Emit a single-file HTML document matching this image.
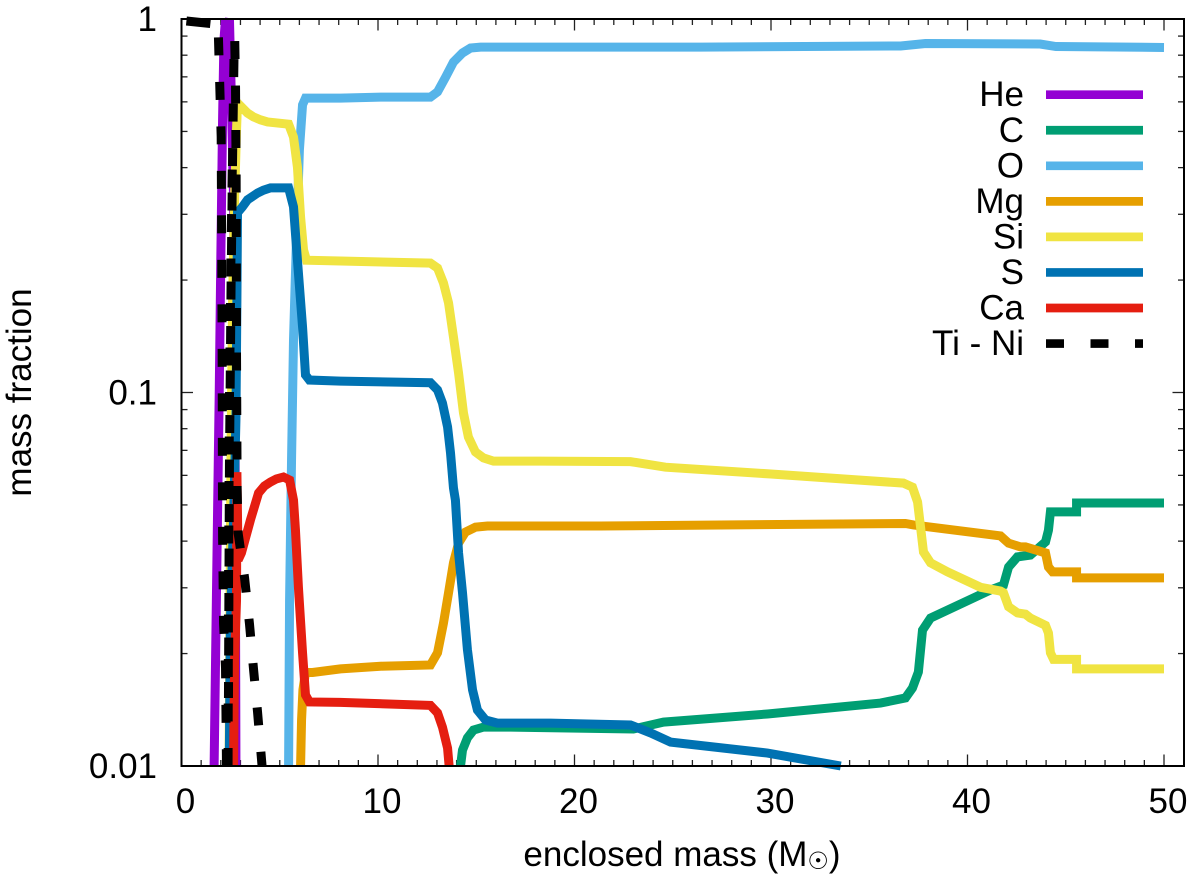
<!DOCTYPE html>
<html>
<head>
<meta charset="utf-8">
<style>
html,body{margin:0;padding:0;background:#fff;}
svg{display:block;}
text{font-family:"Liberation Sans","DejaVu Sans",sans-serif;font-size:35px;fill:#000;}
</style>
</head>
<body>
<svg id="chart" width="1200" height="880" viewBox="0 0 1200 880" xmlns="http://www.w3.org/2000/svg">
<rect width="1200" height="880" fill="#fff"/>
<g id="ticks"></g>
<g id="series"></g>
<rect x="181.5" y="19" width="1002.5" height="747" fill="none" stroke="#000" stroke-width="2"/>
<g id="ticklabels"></g>
<text transform="translate(31,392.5) rotate(-90)" text-anchor="middle">mass fraction</text>
<text x="682" y="866" text-anchor="middle">enclosed mass (M<tspan dy="3" style="font-family:'DejaVu Sans',sans-serif;font-size:24px">☉</tspan><tspan dy="-3">)</tspan></text>
<g id="legend"></g>
</svg>
<script>
var xTicks = [0, 10, 20, 30, 40, 50];
var yTicks = [1, 0.1, 0.01];
var yTickLabels = ["1", "0.1", "0.01"];
var legendLabels = ["He", "C", "O", "Mg", "Si", "S", "Ca", "Ti - Ni"];

var heMass = [1.66,1.83,1.92,2.0,2.09,2.16,2.24,2.31,2.44,2.54,2.65,2.72,2.77];
var heFrac = [0.01,0.0456,0.0998,0.226,0.537,0.879,1,0.958,1,0.607,0.328,0.0955,0.01];

var cMass = [14.2,14.3,14.55,14.86,15.37,16.75,23.0,24.53,29.82,35.57,36.84,37.2,37.5,37.71,38.12,41.17,41.83,42.09,42.54,43.2,43.97,44.12,44.22,45.55,45.55,50];
var cFrac = [0.01,0.01103,0.01189,0.01248,0.01271,0.01271,0.01256,0.01311,0.01378,0.01474,0.01521,0.01618,0.01785,0.0231,0.0249,0.0296,0.0305,0.0341,0.0363,0.0367,0.0398,0.0428,0.0479,0.0479,0.0506,0.0506];

var oMass = [5.45,5.5,5.6,5.7,5.85,6.0,6.16,6.31,8.09,10.13,12.67,13.03,13.44,13.84,14.3,14.71,15.22,16.74,26.4,36.6,37.86,43.7,44.5,50];
var oFrac = [0.01,0.0278,0.066,0.138,0.256,0.446,0.589,0.614,0.614,0.618,0.618,0.638,0.699,0.767,0.811,0.836,0.841,0.841,0.841,0.847,0.86,0.857,0.844,0.839];

var mgMass = [6.06,6.11,6.18,6.31,6.67,8.09,10.13,12.67,13.03,13.33,13.59,13.84,14.1,14.45,14.96,15.57,21.3,36.84,37.25,41.68,42.09,42.7,42.95,43.97,44.12,44.33,45.55,45.55,50];
var mgFrac = [0.01,0.0133,0.016,0.0178,0.0178,0.0182,0.0185,0.01864,0.0201,0.0241,0.0291,0.035,0.0395,0.0423,0.0436,0.0439,0.0439,0.0446,0.0442,0.0413,0.0395,0.0386,0.0386,0.0372,0.0341,0.0331,0.0331,0.0319,0.0319];

var siMass = [2.42,2.47,2.52,2.6,2.7,2.8,2.85,3.1,3.36,3.66,4.02,4.38,5.45,5.7,5.9,6.06,6.21,6.36,8.09,12.67,13.03,13.33,13.59,13.84,14.1,14.35,14.6,14.96,15.37,15.88,18.27,22.85,24.63,30,36.74,37.2,37.46,37.76,38.12,38.98,40.66,41.68,41.83,42.09,42.54,42.95,43.2,43.97,44.12,44.22,44.38,45.55,45.55,50];
var siFrac = [0.01,0.0278,0.0702,0.177,0.328,0.504,0.596,0.578,0.56,0.547,0.537,0.53,0.523,0.483,0.401,0.295,0.241,0.226,0.225,0.222,0.2154,0.1965,0.1737,0.1408,0.1128,0.0881,0.076,0.0693,0.0668,0.0655,0.0655,0.0653,0.0631,0.0605,0.0572,0.0558,0.0509,0.0374,0.035,0.0331,0.0301,0.0294,0.0291,0.0267,0.0257,0.0255,0.0249,0.0238,0.0227,0.0201,0.0193,0.0193,0.0182,0.0182];

var sMass = [2.43,2.49,2.65,2.77,2.82,2.85,3.1,3.36,3.87,4.17,4.53,5.45,5.7,5.9,6.16,6.31,6.51,8.09,12.67,13.03,13.28,13.54,13.69,13.84,13.94,14.1,14.3,14.55,14.81,15.06,15.47,16.08,18.78,22.85,23.87,24.89,29.82,33.55];
var sFrac = [0.01,0.0246,0.0456,0.0844,0.177,0.303,0.314,0.328,0.342,0.348,0.353,0.353,0.314,0.226,0.15,0.1114,0.108,0.1073,0.1062,0.1016,0.0937,0.0809,0.0689,0.0555,0.0515,0.0372,0.0291,0.0205,0.016,0.01412,0.01328,0.01303,0.01303,0.01288,0.01226,0.01159,0.01083,0.01];

var caMass = [2.65,2.7,2.8,2.82,2.88,3.05,3.51,3.92,4.22,4.53,4.83,5.19,5.5,5.7,5.8,5.95,6.16,6.31,6.51,8.09,12.67,13.03,13.28,13.54,13.62];
var caFrac = [0.01,0.0192,0.0278,0.0612,0.0356,0.0372,0.0456,0.0538,0.0562,0.0576,0.0587,0.0594,0.0583,0.0515,0.0428,0.0301,0.0201,0.0155,0.01484,0.0148,0.01453,0.01387,0.01271,0.01117,0.01];

var tiTopMass = [0.25,1.47];
var tiTopFrac = [0.9878,0.9727];
var tiAMass = [1.88,2.02,2.04,2.07,2.09,2.14,2.24,2.29];
var tiAFrac = [0.893,0.483,0.279,0.122,0.0415,0.0241,0.0183,0.01];
var tiBMass = [2.71,2.75,2.78,2.8,2.83,2.88,3.21,3.46,3.66,3.87,4.1];
var tiBFrac = [0.873,0.654,0.378,0.126,0.0555,0.0421,0.0319,0.024,0.0183,0.01395,0.01];
var tiCMass = [2.37,2.39,2.44,2.52,2.6];
var tiCFrac = [0.01,0.0278,0.0955,0.241,0.45];
var tiDMass = [2.67,2.6,2.52,2.44,2.39];
var tiDFrac = [0.781,0.427,0.188,0.0639,0.01521];

function xScale(m) { return 181.5 + (m - 0) * 19.65; }
function yScale(f) { return 19 + (0 - Math.log10(f)) * 373.5; }

var NS = 'http://www.w3.org/2000/svg';
var W = 9;

function drawLine(parent, xs, ys, color, dashed) {
  var el = document.createElementNS(NS, 'polyline');
  var pts = [];
  for (var i = 0; i < xs.length; i++) {
    pts.push(xScale(xs[i]).toFixed(2) + ',' + yScale(ys[i]).toFixed(2));
  }
  el.setAttribute('points', pts.join(' '));
  el.setAttribute('fill', 'none');
  el.setAttribute('stroke', color);
  el.setAttribute('stroke-width', W);
  el.setAttribute('stroke-linejoin', 'miter');
  el.setAttribute('stroke-miterlimit', '3');
  if (dashed) { el.setAttribute('stroke-dasharray', '18 26.5'); }
  parent.appendChild(el);
  return el;
}

var seriesG = document.getElementById('series');
var l;
l = drawLine(seriesG, heMass, heFrac, '#9400d3', false);


l = drawLine(seriesG, cMass, cFrac, '#009e73', false);


l = drawLine(seriesG, oMass, oFrac, '#56b4e9', false);


l = drawLine(seriesG, mgMass, mgFrac, '#e69f00', false);


l = drawLine(seriesG, siMass, siFrac, '#f0e442', false);


l = drawLine(seriesG, sMass, sFrac, '#0072b2', false);


l = drawLine(seriesG, caMass, caFrac, '#e51e10', false);


l = drawLine(seriesG, tiTopMass, tiTopFrac, '#000', false);


l = drawLine(seriesG, tiAMass, tiAFrac, '#000', true);


l = drawLine(seriesG, tiBMass, tiBFrac, '#000', true);


l = drawLine(seriesG, tiCMass, tiCFrac, '#000', true);


l = drawLine(seriesG, tiDMass, tiDFrac, '#000', true);



function tick(x1, y1, x2, y2, name) {
  var t = document.createElementNS(NS, 'line');
  t.setAttribute('x1', x1);
  t.setAttribute('y1', y1);
  t.setAttribute('x2', x2);
  t.setAttribute('y2', y2);
  t.setAttribute('stroke', '#222');
  t.setAttribute('stroke-width', '1.3');
  
  
  document.getElementById('ticks').appendChild(t);
}

var xMax = 51;
for (var m = 1; m < xMax; m++) {
  var px = xScale(m);
  var len = (m % 10 === 0) ? 11.5 : 6;
  tick(px, 766, px, 766 - len, 'x-tick');
  tick(px, 19, px, 19 + len, 'x-tick-top');
}
for (var dec = 0; dec < 2; dec++) {
  for (var k = 1; k <= 9; k++) {
    var val = k * Math.pow(10, -dec - 1);
    var py = yScale(val);
    if (k === 1 && dec === 1) { continue; }
    var ylen = (k === 1) ? 11.5 : 6;
    tick(181.5, py, 181.5 + ylen, py, 'y-tick');
    tick(1184, py, 1184 - ylen, py, 'y-tick-right');
  }
}

var labelsG = document.getElementById('ticklabels');
xTicks.forEach(function (v) {
  var t = document.createElementNS(NS, 'text');
  t.setAttribute('x', xScale(v) + 4);
  t.setAttribute('y', 813);
  t.setAttribute('text-anchor', 'middle');
  t.textContent = String(v);
  
  
  labelsG.appendChild(t);
});
yTicks.forEach(function (v, i) {
  var t = document.createElementNS(NS, 'text');
  t.setAttribute('x', 157);
  t.setAttribute('y', yScale(v) + 12);
  t.setAttribute('text-anchor', 'end');
  t.textContent = yTickLabels[i];
  
  
  labelsG.appendChild(t);
});

var legendColors = ['#9400d3', '#009e73', '#56b4e9', '#e69f00', '#f0e442', '#0072b2', '#e51e10', '#000'];
var legendG = document.getElementById('legend');
legendLabels.forEach(function (lab, i) {
  var yy = 94.7 + i * 35.55;
  var t = document.createElementNS(NS, 'text');
  t.setAttribute('x', 1024);
  t.setAttribute('y', yy + 11.5);
  t.setAttribute('text-anchor', 'end');
  t.textContent = lab;
  
  
  legendG.appendChild(t);
  var s = document.createElementNS(NS, 'line');
  s.setAttribute('x1', 1046);
  s.setAttribute('x2', 1143);
  s.setAttribute('y1', yy);
  s.setAttribute('y2', yy);
  s.setAttribute('stroke', legendColors[i]);
  s.setAttribute('stroke-width', 8.7);
  if (i === 7) { s.setAttribute('stroke-dasharray', '18 26.5'); }
  
  
  legendG.appendChild(s);
});
</script>
</body>
</html>
